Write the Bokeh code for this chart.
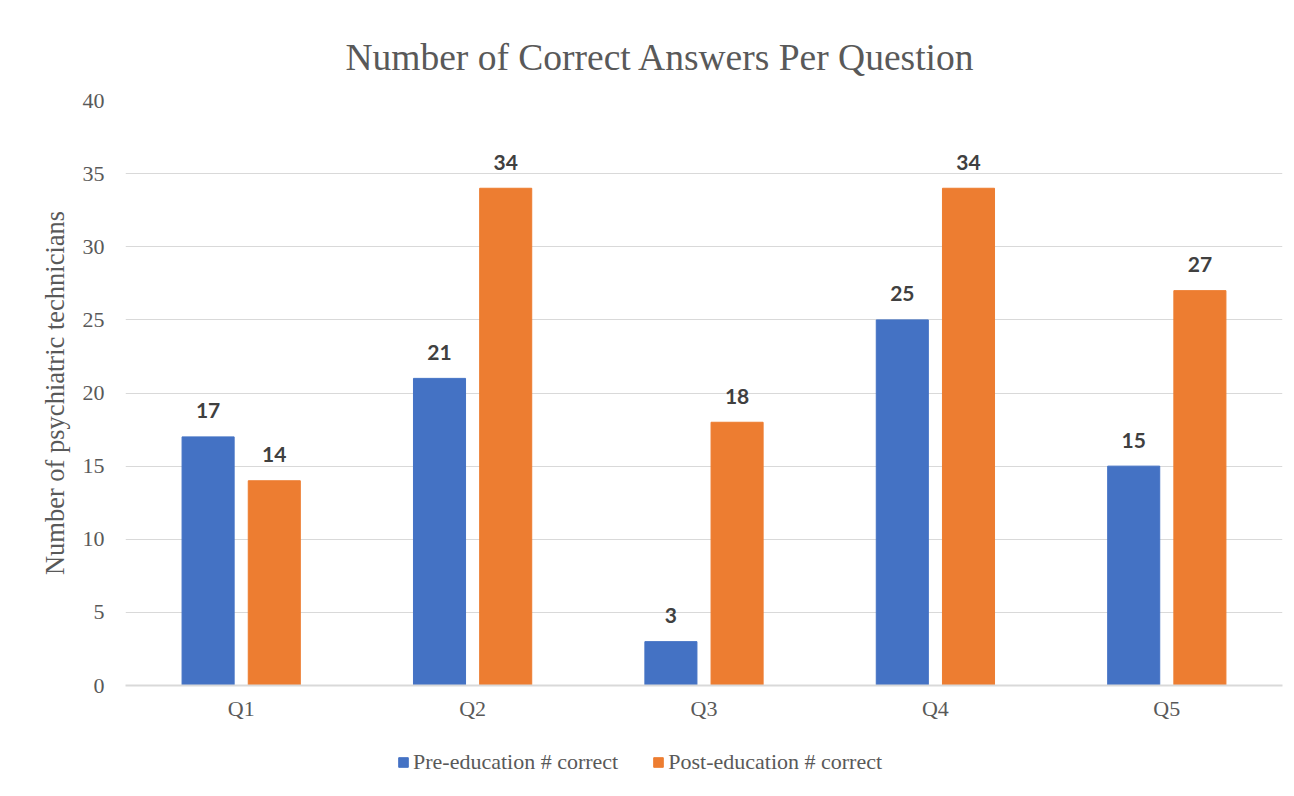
from bokeh.plotting import figure
from bokeh.layouts import column
from bokeh.models import ColumnDataSource, Legend, LegendItem, FactorRange, Range1d, SingleIntervalTicker, Label
from bokeh.transform import dodge
from bokeh.core.properties import value
from bokeh.embed import file_html
from bokeh.resources import INLINE

questions = ["Q1", "Q2", "Q3", "Q4", "Q5"]
pre_correct = [17, 21, 3, 25, 15]
post_correct = [14, 34, 18, 34, 27]
series_names = ["Pre-education # correct", "Post-education # correct"]
title_text = "Number of Correct Answers Per Question"

src = ColumnDataSource(dict(q=questions, pre=pre_correct, post=post_correct,
                            pre_t=[str(v) for v in pre_correct],
                            post_t=[str(v) for v in post_correct]))

SERIF = "Liberation Serif"
TXT = "#595959"
BLUE = "#4472C4"
ORANGE = "#ED7D31"

# title strip (frame aligned with the chart frame; y runs top-down in pixels)
tf = figure(width=1294, height=80, x_range=Range1d(0, 1157), y_range=Range1d(80, 0),
            x_axis_location=None, y_axis_location=None,
            min_border_left=125, min_border_right=12, min_border_top=0, min_border_bottom=0,
            output_backend="svg", toolbar_location=None)
tf.outline_line_color = None
tf.grid.grid_line_color = None
tf.border_fill_color = "white"
tf.background_fill_color = "white"
tf.add_layout(Label(x=535, y=57, text=title_text, text_align="center", text_baseline="alphabetic",
                    text_font=SERIF, text_font_size="37.5px", text_color=TXT))

p = figure(x_range=FactorRange(*questions), y_range=Range1d(0, 40),
           frame_width=1157, frame_height=585,
           width=1294, height=660,
           min_border_left=125, min_border_right=12, min_border_top=20, min_border_bottom=55,
           output_backend="svg", toolbar_location=None)

p.outline_line_color = None
p.background_fill_color = "white"
p.border_fill_color = "white"

p.xgrid.grid_line_color = None
p.ygrid.grid_line_color = "#d9d9d9"
p.ygrid.grid_line_width = 1

p.yaxis.ticker = SingleIntervalTicker(interval=5)
p.yaxis.axis_line_color = None
p.yaxis.major_tick_line_color = None
p.yaxis.minor_tick_line_color = None
p.yaxis.major_label_text_font = SERIF
p.yaxis.major_label_text_font_size = "22px"
p.yaxis.major_label_text_color = TXT
p.yaxis.major_label_standoff = 15
p.yaxis.axis_label = "Number of psychiatric technicians"
p.yaxis.axis_label_text_font = SERIF
p.yaxis.axis_label_text_font_size = "26.5px"
p.yaxis.axis_label_text_font_style = "normal"
p.yaxis.axis_label_text_color = TXT
p.yaxis.axis_label_standoff = 10

p.xaxis.axis_line_color = "#d9d9d9"
p.xaxis.axis_line_width = 2
p.xaxis.major_tick_line_color = None
p.xaxis.minor_tick_line_color = None
p.xaxis.major_label_text_font = SERIF
p.xaxis.major_label_text_font_size = "22px"
p.xaxis.major_label_text_color = TXT
p.xaxis.major_label_standoff = 4

bw = 0.225
off = 0.143
r1 = p.vbar(x=dodge("q", -off, range=p.x_range), top="pre", width=bw, source=src,
            fill_color=BLUE, line_color=BLUE)
r2 = p.vbar(x=dodge("q", off, range=p.x_range), top="post", width=bw, source=src,
            fill_color=ORANGE, line_color=ORANGE)

for col, o in (("pre", -off), ("post", off)):
    p.text(x=dodge("q", o, range=p.x_range), y=col, text=col + "_t", source=src,
           text_align="center", text_baseline="alphabetic", y_offset=-26,
           text_font=value("Lato"), text_font_style="bold", text_font_size="21px",
           text_color="#404040")

# legend strip below the chart (its frame is aligned with the chart frame)
lg = figure(width=1294, height=56, x_range=FactorRange(*questions), y_range=Range1d(0, 1),
            x_axis_location=None, y_axis_location=None,
            min_border_left=125, min_border_right=12, min_border_top=0, min_border_bottom=0,
            output_backend="svg", toolbar_location=None)
lg.outline_line_color = None
lg.grid.grid_line_color = None
lg.border_fill_color = "white"
lg.background_fill_color = "white"
l1 = lg.vbar(x="q", top="pre", width=0.2, source=src, fill_color=BLUE, line_color=BLUE, visible=False)
l2 = lg.vbar(x="q", top="post", width=0.2, source=src, fill_color=ORANGE, line_color=ORANGE, visible=False)
legend = Legend(items=[LegendItem(label=series_names[0], renderers=[l1], index=0),
                       LegendItem(label=series_names[1], renderers=[l2], index=0)],
                orientation="horizontal", location=(272, 21),
                label_text_font=SERIF, label_text_font_size="22px", label_text_color=TXT,
                glyph_width=12, glyph_height=12, spacing=34, label_standoff=4,
                padding=0, margin=0, label_height=26,
                inactive_fill_alpha=0,
                border_line_color=None, background_fill_alpha=0)
lg.add_layout(legend, "center")

open("out.html", "w").write(file_html(column(tf, p, lg, spacing=0), INLINE))
